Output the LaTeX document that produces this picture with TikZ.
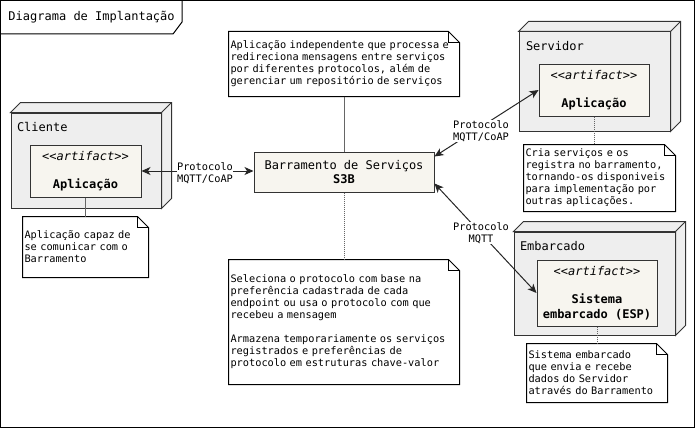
\documentclass[tikz,border=0pt]{standalone}
\usepackage{fontspec}
\setmainfont{DejaVu Sans Mono}[WordSpace={1,0,0}]
\usetikzlibrary{arrows.meta,calc,positioning}
\definecolor{NodeGray}{HTML}{EEEEEE}
\definecolor{ArtCream}{HTML}{F7F5EF}
\definecolor{EdgeGray}{HTML}{333333}
\definecolor{LinkGray}{HTML}{666666}
\tikzset{
    device/.style = {draw=EdgeGray, fill=NodeGray, rectangle, inner sep=0pt},
    artifact/.style = {draw=EdgeGray, fill=ArtCream, rectangle, align=center,
        inner sep=0pt, font=\fontsize{12}{14.5}\selectfont},
    note/.style = {rectangle, align=left, inner xsep=1.5pt, inner ysep=0pt,
        font=\fontsize{10.3}{12}\selectfont},
    lbl/.style = {fill=white, align=center, inner sep=0.5pt,
        font=\fontsize{10.3}{12}\selectfont},
    devname/.style = {anchor=base west, inner sep=0pt, font=\fontsize{12}{14.5}\selectfont},
    link/.style = {draw=black!85, <->},
    notelink/.style = {draw=LinkGray},
    dotlink/.style = {draw=LinkGray, dash pattern=on 1pt off 1pt}
}
\newcommand{\boxdepth}{10}
\newcommand{\earsize}{11pt}

\begin{document}
\begin{tikzpicture}[x=1pt, y=-1pt, line width=1pt, >={Stealth[length=9pt,width=8pt,inset=2.5pt]}]
        \useasboundingbox (0,0) rectangle (695,428);
        % frame and title tab
        \draw (0.5,0.5) rectangle (694.5,427.5);
        \node [devname] (title) at (8,21) {Diagrama de Implantação};
        \draw (0.5,34) -- (173,34) -- (182,22) -- (182,0.5);

        % devices
        \node [device, minimum width=150pt, minimum height=95pt] (cli) at (86,160.5) {};
        \node [device, minimum width=151pt, minimum height=99pt] (srv) at (594.5,81.5) {};
        \node [device, minimum width=161pt, minimum height=103pt] (emb) at (594.5,283.5) {};
        \foreach \n in {cli,srv,emb}{
            \draw [draw=EdgeGray, fill=NodeGray] (\n.north west) -- ++(\boxdepth,-\boxdepth)
                -- ([shift={(\boxdepth,-\boxdepth)}]\n.north east)
                -- ([shift={(\boxdepth,-\boxdepth)}]\n.south east)
                -- (\n.south east) -- (\n.north east) -- cycle;
            \draw [draw=EdgeGray] (\n.north east) -- ++(\boxdepth,-\boxdepth);
        }
        \node [devname] (clilbl) at ($(cli.north west)+(6,19)$) {Cliente};
        \node [devname] (srvlbl) at ($(srv.north west)+(7,19)$) {Servidor};
        \node [devname] (emblbl) at ($(emb.north west)+(6,19)$) {Embarcado};

        % artifacts
        \node [artifact, minimum width=111pt, minimum height=52pt] (cliart) at (85.5,171)
            {\textit{<{}<artifact>{}>}\\[14pt]\textbf{Aplicação}};
        \node [artifact, minimum width=110pt, minimum height=52pt] (srvart) at (594,90)
            {\textit{<{}<artifact>{}>}\\[14pt]\textbf{Aplicação}};
        \node [artifact, minimum width=120pt, minimum height=66pt] (embart) at (597,293)
            {\textit{<{}<artifact>{}>}\\[14pt]\textbf{Sistema}\\\textbf{embarcado (ESP)}};
        \node [artifact, minimum width=180pt, minimum height=40pt] (bus) at (344,172)
            {Barramento de Serviços\\\textbf{S3B}};

        % notes
        \node [note, text width=227pt, minimum height=64pt] (info) at (344,64)
            {Aplicação independente que processa e\\redireciona mensagens entre serviços\\por diferentes protocolos, além de\\gerenciar um repositório de serviços};
        \node [note, text width=227pt, minimum height=124pt] (busnote) at (344,322)
            {Seleciona o protocolo com base na\\preferência cadastrada de cada\\endpoint ou usa o protocolo com que\\recebeu a mensagem\\[12pt]Armazena temporariamente os serviços\\registrados e preferências de\\protocolo em estruturas chave-valor};
        \node [note, text width=122pt, minimum height=60pt] (clinote) at (85.5,247)
            {Aplicação capaz de\\se comunicar com o\\Barramento};
        \node [note, text width=148pt, minimum height=66pt] (srvnote) at (599.5,178)
            {Cria serviços e os\\registra no barramento,\\tornando-os disponiveis\\para implementação por\\outras aplicações.};
        \node [note, text width=137pt, minimum height=58pt] (embnote) at (597,373)
            {Sistema embarcado\\que envia e recebe\\dados do Servidor\\através do Barramento};
        \foreach \n in {info,busnote,clinote,srvnote,embnote}{
            \draw (\n.north west) -- ([xshift=-\earsize]\n.north east) -- ([yshift=-\earsize]\n.north east)
                -- (\n.south east) -- (\n.south west) -- cycle;
            \draw ([xshift=-\earsize]\n.north east) |- ([yshift=-\earsize]\n.north east);
        }

        % note links
        \draw [notelink] (cliart.south) -- (cliart.south |- clinote.north);
        \draw [notelink] (info.south) -- (info.south |- bus.north);
        \draw [dotlink] (bus.south) -- (bus.south |- busnote.north);
        \draw [dotlink] (srvart.south) -- (srvart.south |- srvnote.north);
        \draw [dotlink] (embart.south) -- (embart.south |- embnote.north);

        % protocol links
        \draw [link] (cliart.east) -- (cliart.east -| bus.west);
        \node [lbl] (pcli) at (205,173) {Protocolo\\MQTT/CoAP};
        \draw [link] ([yshift=-5pt]bus.north east) -- (srvart.west);
        \node [lbl] (psrv) at (481,131) {Protocolo\\MQTT/CoAP};
        \draw [link] ([yshift=9pt]bus.south east) -- (embart.west);
        \node [lbl] (pemb) at (481,233) {Protocolo\\MQTT};
\end{tikzpicture}
\end{document}
